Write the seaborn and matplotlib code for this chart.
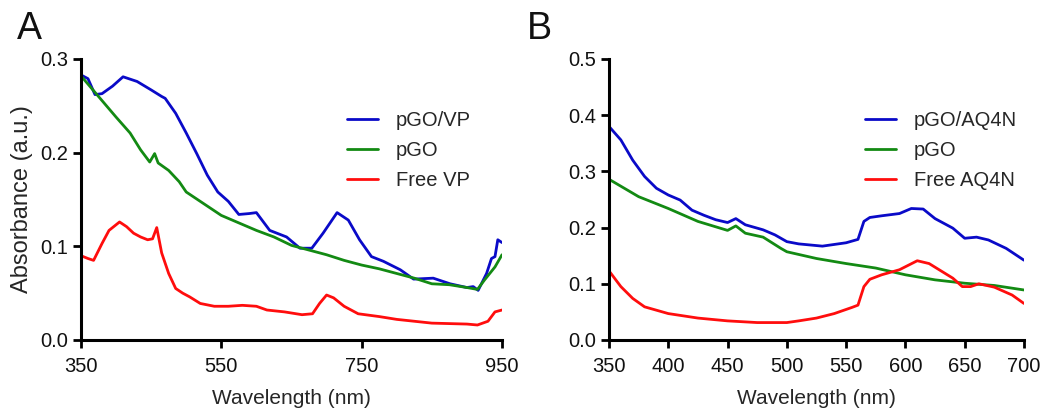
import matplotlib
matplotlib.use("Agg")
import matplotlib.pyplot as plt
import seaborn as sns
import pandas as pd

# panel A: pGO/VP spectra
wl_a_blue = [350, 360, 370, 380, 395, 410, 430, 450, 465, 470, 485, 500, 515, 530, 545, 560,
             575, 590, 600, 619, 643, 662, 679, 695, 715, 731, 747, 764, 781, 805, 824, 852,
             876, 900, 909, 916, 928, 935, 940, 944, 950]
abs_a_blue = [0.283, 0.279, 0.262, 0.263, 0.271, 0.281, 0.276, 0.267, 0.260, 0.258, 0.242, 0.221,
              0.199, 0.176, 0.158, 0.148, 0.134, 0.135, 0.136, 0.117, 0.110, 0.098, 0.098, 0.114,
              0.136, 0.128, 0.107, 0.089, 0.084, 0.075, 0.065, 0.066, 0.060, 0.056, 0.057, 0.053,
              0.071, 0.087, 0.089, 0.107, 0.104]

wl_a_green = [350, 375, 400, 420, 435, 448, 455, 460, 475, 490, 500, 520, 550, 575, 600, 625,
              650, 675, 700, 725, 750, 775, 800, 825, 850, 875, 900, 915, 925, 940, 950]
abs_a_green = [0.282, 0.260, 0.238, 0.221, 0.203, 0.190, 0.199, 0.189, 0.181, 0.169, 0.158, 0.148,
               0.133, 0.125, 0.117, 0.110, 0.101, 0.096, 0.091, 0.085, 0.080, 0.076, 0.071, 0.066,
               0.060, 0.059, 0.056, 0.054, 0.064, 0.078, 0.091]

wl_a_red = [350, 360, 368, 380, 390, 400, 405, 415, 425, 435, 445, 452, 458, 465, 475, 485, 495,
            505, 520, 540, 560, 580, 600, 615, 640, 665, 680, 690, 700, 710, 725, 745, 775, 800,
            850, 900, 915, 930, 940, 950]
abs_a_red = [0.090, 0.087, 0.085, 0.103, 0.117, 0.123, 0.126, 0.121, 0.114, 0.110, 0.107, 0.108,
             0.120, 0.093, 0.071, 0.055, 0.050, 0.046, 0.039, 0.036, 0.036, 0.037, 0.036, 0.032,
             0.030, 0.027, 0.028, 0.039, 0.048, 0.045, 0.036, 0.028, 0.025, 0.022, 0.018, 0.017,
             0.016, 0.020, 0.030, 0.032]

# panel B: pGO/AQ4N spectra
wl_b_blue = [350, 360, 370, 380, 390, 400, 410, 420, 430, 440, 450, 457, 465, 480, 490, 500, 510,
             530, 550, 560, 565, 570, 580, 595, 605, 615, 625, 640, 650, 660, 670, 685, 700]
abs_b_blue = [0.380, 0.356, 0.320, 0.291, 0.270, 0.258, 0.249, 0.231, 0.222, 0.214, 0.209, 0.216,
              0.205, 0.196, 0.187, 0.175, 0.171, 0.167, 0.173, 0.179, 0.211, 0.218, 0.221, 0.225,
              0.234, 0.233, 0.216, 0.199, 0.181, 0.183, 0.178, 0.163, 0.142]

wl_b_green = [350, 375, 400, 425, 450, 457, 465, 480, 495, 500, 525, 550, 575, 600, 625, 650, 675, 700]
abs_b_green = [0.286, 0.255, 0.234, 0.211, 0.195, 0.203, 0.190, 0.183, 0.163, 0.157, 0.145, 0.136,
               0.128, 0.116, 0.107, 0.101, 0.097, 0.089]

wl_b_red = [350, 360, 370, 380, 400, 425, 450, 475, 500, 510, 525, 540, 555, 560, 565, 570, 580,
            595, 610, 620, 630, 640, 648, 655, 662, 675, 690, 700]
abs_b_red = [0.123, 0.095, 0.074, 0.059, 0.047, 0.039, 0.034, 0.031, 0.031, 0.034, 0.039, 0.047,
             0.058, 0.062, 0.095, 0.108, 0.116, 0.125, 0.141, 0.136, 0.123, 0.110, 0.095, 0.095,
             0.100, 0.094, 0.080, 0.065]

blue = "#0a0ac8"
green = "#138a13"
red = "#ff0d0d"

sns.set_style("ticks")
plt.rcParams['font.family'] = ['Liberation Sans', 'DejaVu Sans']

fig = plt.figure(figsize=(10.5, 4.08), dpi=100)
ax_a = fig.add_axes([0.0771, 0.1667, 0.401, 0.6887])
ax_b = fig.add_axes([0.580, 0.1667, 0.3952, 0.6887])


def draw_series(ax, x, y, color, label):
    df = pd.DataFrame({'wl': x, 'abs': y})
    sns.lineplot(data=df, x='wl', y='abs', color=color, label=label, ax=ax, linewidth=2)


draw_series(ax_a, wl_a_blue, abs_a_blue, blue, 'pGO/VP')
draw_series(ax_a, wl_a_green, abs_a_green, green, 'pGO')
draw_series(ax_a, wl_a_red, abs_a_red, red, 'Free VP')

draw_series(ax_b, wl_b_blue, abs_b_blue, blue, 'pGO/AQ4N')
draw_series(ax_b, wl_b_green, abs_b_green, green, 'pGO')
draw_series(ax_b, wl_b_red, abs_b_red, red, 'Free AQ4N')

ax_a.set_xlim(350, 950)
ax_a.set_ylim(0, 0.3)
ax_a.set_xticks([350, 550, 750, 950])
ax_a.set_yticks([0.0, 0.1, 0.2, 0.3])
ax_a.set_ylabel('Absorbance (a.u.)', fontsize=17, labelpad=5)

ax_b.set_xlim(350, 700)
ax_b.set_ylim(0, 0.5)
ax_b.set_xticks(range(350, 701, 50))
ax_b.set_yticks([0.0, 0.1, 0.2, 0.3, 0.4, 0.5])
ax_b.set_ylabel('')

for ax in (ax_a, ax_b):
    ax.set_xlabel('Wavelength (nm)', fontsize=15, labelpad=9)
    ax.yaxis.set_major_formatter(matplotlib.ticker.FormatStrFormatter('%.1f'))
    ax.tick_params(axis='both', labelsize=14.5, width=2, length=6, color='black', labelcolor='#111111')
    ax.tick_params(axis='x', pad=6.5)
    for side in ('left', 'bottom'):
        ax.spines[side].set_linewidth(2.2)
        ax.spines[side].set_color('black')
    sns.despine(ax=ax)

ax_a.legend(frameon=False, fontsize=14.5, loc='upper left', bbox_to_anchor=(0.59, 0.88),
            handlelength=1.5, handletextpad=0.9, labelspacing=0.55)
ax_b.legend(frameon=False, fontsize=14.5, loc='upper left', bbox_to_anchor=(0.574, 0.88),
            handlelength=1.5, handletextpad=0.9, labelspacing=0.55)

fig.text(0.016, 0.905, 'A', fontsize=27, color='#111111')
fig.text(0.502, 0.905, 'B', fontsize=27, color='#111111')

fig.savefig('out.png', dpi=100, facecolor='white')
